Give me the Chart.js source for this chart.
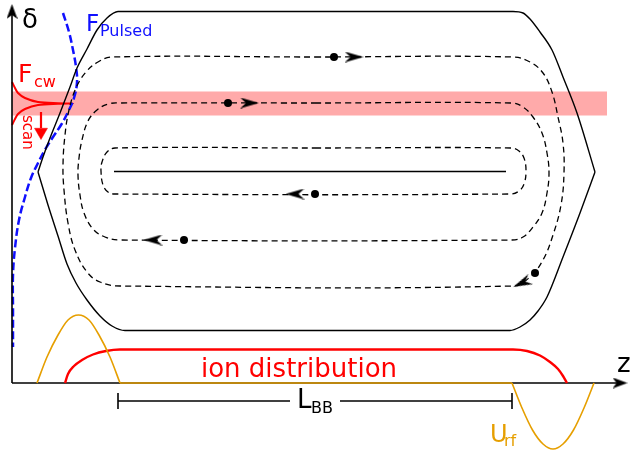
<!DOCTYPE html>
<html>
<head>
<meta charset="utf-8">
<script src="https://cdn.jsdelivr.net/npm/chart.js@4/dist/chart.umd.min.js"></script>
<style>
  html, body { margin: 0; padding: 0; background: #fff; }
  canvas { display: block; }
</style>
</head>
<body>
<canvas id="phase" width="633" height="453"></canvas>
<script>
// Longitudinal phase space of a barrier-bucket: z along the ring, δ momentum deviation.
// All curves are given as [z, δ] pairs.

// Bucket separatrix, upper and lower branches
const separatrixUpper = [[26,211],[31,226],[38,245],[48,270],[58,296],[65,315],[75,334],[85,353],[95,365],[106,371.5],
  [501,371.5],[511,370],[518,364],[528,351],[540,333],[551,306],[565,270],[583,211]];
const separatrixLower = [[26,211],[36,178],[46,147],[55,119],[64,100],[75,83],[88,67],[100,57],[113,52.5],
  [498,52.5],[508,56],[518,63],[526,72],[535,86],[551,126],[568,170],[583,211]];

// Closed particle orbits inside the bucket
const orbitOuter = [[303,326],[501,326],[518,321],[531,310],[540,291],[546,266],[551,240],[552,210],[549,178],[541,148],
  [531,123],[518,106],[501,97],[108,97],[88,101],[75,111],[63,133],[56,160],[52,193],[51,218],[53,248],[57,273],
  [64,295],[74,311],[86,321],[100,326],[303,326]];
const orbitMiddle = [[303,280],[500,280],[511,276],[521,266],[530,250],[535,230],[537,210],[535,190],[530,170],[521,156],
  [511,146],[500,143],[108,143],[93,146],[81,154],[72,170],[68,188],[66,208],[67,225],[70,243],[76,262],[85,273],
  [96,279],[108,280],[303,280]];
const orbitInner = [[303,235],[499,235],[507,232],[512,225],[514,212],[512,199],[507,192],[499,189],[103,189],[96,191],
  [91,198],[89,212],[90,221],[95,231],[103,235],[303,235]];
const fixedLine = [[102,211.5],[494,211.5]];

// Sample particles on the orbits and their direction of motion (degrees)
const particles = [[322,326],[216,280],[303,189],[172,143],[523,110]];
const motionMarks = [[342,326],[237.5,280],[283,189],[141,143],[510,100]];
const motionAngles = [0, 0, 180, 180, 156];

// Momentum distributions of the cooling beams
const cwBand = [267.5, 291.5];
const cwBandZ = [0, 595];
const cwProfile = [[0,301],[3,295],[6,290],[13,285],[26,281],[46,279.8],[61,279.5],[46,279.2],[26,278],[13,274],[6,269],[3,264],[0,258]];
const pulsedProfile = [[51,370],[57,351],[61,333],[64,316],[65,301],[62,285],[56,271],[49,258],[41,246],[34,235],
  [26,220],[19,205],[13,186],[7,163],[3,135],[1,108],[1,73],[1,36]];
const scanShaft = [[29,271],[29,255]];
const scanHead = [[29,251]];

// Ion line density and barrier rf voltage along z
const ionDistribution = [[53,0],[56,9],[62,17],[70,23],[81,28.5],[94,32],[108,33.5],[501,33.5],[515,32],[528,27.5],
  [538,21],[546,14],[551,7],[555,0]];
const urfLeft = [[25,0],[35,26],[46,48],[56,63],[66.5,68],[77,63],[87,48],[98,26],[108,0]];
const urfFlat = [[108,0],[500,0]];
const urfRight = [[500,0],[510,-25],[520.5,-47],[531,-61],[541,-66],[551,-61],[561.5,-47],[572,-25],[582,0]];

// Barrier spacing L_BB
const lbbSpan = [106, 500];
const lbbLevel = -18;

// Axes
const deltaAxis = [[0,0],[0,371]];
const zAxis = [[0,0],[609,0]];
const axisHeads = [[0,371.5],[608,0]];
const axisAngles = [-90, 0];

const pts = a => a.map(p => ({ x: p[0], y: p[1] }));

function stealth(len, wid, notch) {
  const c = document.createElement('canvas');
  c.width = len; c.height = wid;
  const g = c.getContext('2d');
  g.fillStyle = '#000';
  g.beginPath();
  g.moveTo(len, wid / 2);
  g.lineTo(0, 0);
  g.lineTo(notch, wid / 2);
  g.lineTo(0, wid);
  g.closePath();
  g.fill();
  return c;
}
const orbitArrow = stealth(19, 11, 6);
const axisArrow = stealth(15, 11, 4);

function curve(data, color, width, extra) {
  return Object.assign({
    data: pts(data), showLine: true, borderColor: color, borderWidth: width,
    pointRadius: 0, fill: false, tension: 0, order: 5
  }, extra || {});
}

const BLACK = '#000000', RED = '#ff0000', BLUE = '#1010ff', ORANGE = '#e69f00';
const dash = [6, 4];

const datasets = [
  // cw laser acceptance band
  { data: pts([[cwBandZ[0], cwBand[1]], [cwBandZ[1], cwBand[1]]]), showLine: true, borderWidth: 0,
    borderColor: 'rgba(0,0,0,0)', pointRadius: 0, backgroundColor: '#ffaaaa',
    fill: { value: cwBand[0] }, order: 100 },
  curve(cwProfile, RED, 2, { tension: 0.3, order: 20 }),
  curve(pulsedProfile, BLUE, 2.5, { tension: 0.4, borderDash: [8, 3.5], order: 19 }),
  curve(separatrixUpper, BLACK, 1.4, { cubicInterpolationMode: 'monotone', order: 18 }),
  curve(separatrixLower, BLACK, 1.4, { cubicInterpolationMode: 'monotone', order: 18 }),
  curve(orbitOuter, BLACK, 1.3, { tension: 0.4, borderDash: dash, order: 17 }),
  curve(orbitMiddle, BLACK, 1.3, { tension: 0.4, borderDash: dash, order: 17 }),
  curve(orbitInner, BLACK, 1.3, { tension: 0.4, borderDash: dash, order: 17 }),
  curve(fixedLine, BLACK, 1.5, { order: 17 }),
  curve(deltaAxis, BLACK, 1.6, { order: 16 }),
  curve(zAxis, BLACK, 1.6, { order: 16 }),
  curve(ionDistribution, RED, 2.4, { cubicInterpolationMode: 'monotone', order: 15 }),
  curve(urfLeft, ORANGE, 1.6, { cubicInterpolationMode: 'monotone', order: 14 }),
  curve(urfFlat, ORANGE, 1.6, { order: 14 }),
  curve(urfRight, ORANGE, 1.6, { cubicInterpolationMode: 'monotone', order: 14 }),
  curve([[lbbSpan[0], lbbLevel], [lbbSpan[1], lbbLevel]], BLACK, 1.5, { order: 13 }),
  { data: pts([[lbbSpan[0], lbbLevel], [lbbSpan[1], lbbLevel]]), showLine: false, pointStyle: 'line',
    pointRadius: 8, rotation: 90, pointBorderColor: BLACK, pointBorderWidth: 1.6, order: 12 },
  curve(scanShaft, RED, 2.2, { order: 11 }),
  { data: pts(scanHead), showLine: false, pointStyle: 'triangle', rotation: 180, pointRadius: 7.5,
    pointBackgroundColor: RED, pointBorderColor: RED, pointBorderWidth: 0.5, order: 11 },
  { data: pts(particles), showLine: false, pointStyle: 'circle', pointRadius: 4,
    pointBackgroundColor: BLACK, pointBorderColor: BLACK, pointBorderWidth: 0, order: 10 },
  { data: pts(motionMarks), showLine: false, pointStyle: orbitArrow, pointRadius: 6,
    rotation: motionAngles, order: 10 },
  { data: pts(axisHeads), showLine: false, pointStyle: axisArrow, pointRadius: 6,
    rotation: axisAngles, order: 10 }
];

const FONT = '"DejaVu Sans", Verdana, sans-serif';

const labels = {
  id: 'labels',
  afterDatasetsDraw(chart) {
    const { ctx, scales: { x, y } } = chart;
    const X = v => x.getPixelForValue(v), Y = v => y.getPixelForValue(v);
    const text = (s, z, d, size, color, align) => {
      ctx.font = size + 'px ' + FONT;
      ctx.fillStyle = color;
      ctx.textAlign = align || 'left';
      ctx.textBaseline = 'alphabetic';
      ctx.fillText(s, X(z), Y(d));
    };
    ctx.save();
    // gap in the L_BB dimension line
    ctx.fillStyle = '#fff';
    ctx.fillRect(X(278), Y(lbbLevel) - 4, X(328) - X(278), 8);

    text('δ', 10, 355, 26, BLACK);
    text('z', 605, 11, 26, BLACK);
    text('F', 74, 352, 23, BLUE);
    text('Pulsed', 88, 347, 16, BLUE);
    text('F', 6, 301, 25, RED);
    text('cw', 22, 296, 16, RED);
    text('ion distribution', 287, 6, 26, RED, 'center');
    text('L', 285, -25, 26, BLACK);
    text('BB', 299, -30, 16, BLACK);
    text('U', 478, -59, 24, ORANGE);
    text('rf', 492, -63, 16, ORANGE);

    ctx.translate(X(11), Y(268));
    ctx.rotate(Math.PI / 2);
    ctx.font = '15px ' + FONT;
    ctx.fillStyle = RED;
    ctx.textAlign = 'left';
    ctx.fillText('scan', 0, 0);
    ctx.restore();
  }
};

new Chart(document.getElementById('phase'), {
  type: 'line',
  data: { datasets },
  options: {
    responsive: false,
    animation: false,
    events: [],
    layout: { padding: 0, autoPadding: false },
    plugins: { legend: { display: false }, tooltip: { enabled: false } },
    scales: {
      x: { type: 'linear', min: -12, max: 621, display: false },
      y: { type: 'linear', min: -70, max: 383, display: false }
    }
  },
  plugins: [labels]
});
</script>
</body>
</html>
